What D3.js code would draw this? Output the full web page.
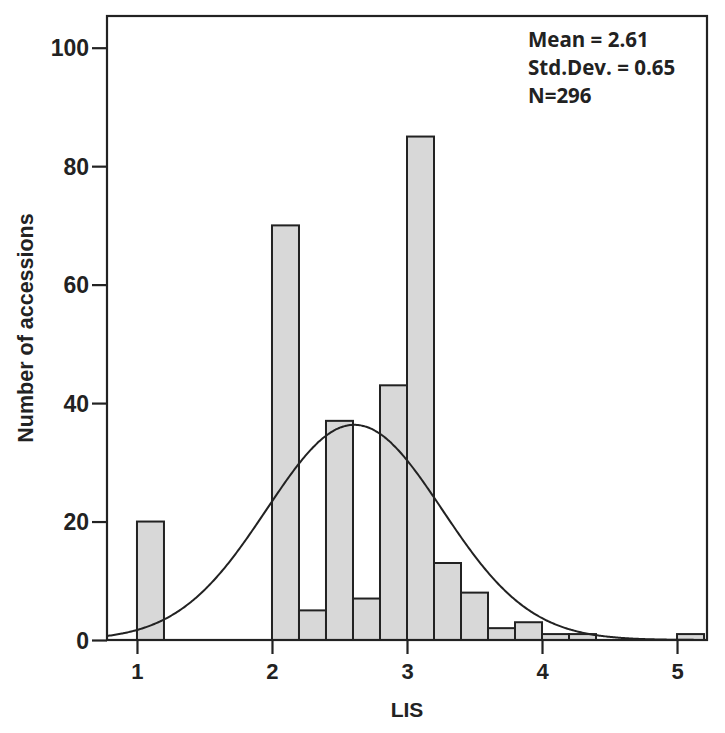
<!DOCTYPE html>
<html><head><meta charset="utf-8">
<script src="https://cdn.jsdelivr.net/npm/d3@7"></script>
<style>body{margin:0;background:#fff;}</style>
</head><body>
<svg id="c" width="725" height="733"></svg>
<script>
// Data
const binStarts = [1.0, 2.0, 2.2, 2.4, 2.6, 2.8, 3.0, 3.2, 3.4, 3.6, 3.8, 4.0, 4.2, 5.0];
const counts    = [20, 70, 5, 37, 7, 43, 85, 13, 8, 2, 3, 1, 1, 1];
const binWidth = 0.2;
const xTicks = [1, 2, 3, 4, 5];
const yTicks = [0, 20, 40, 60, 80, 100];
const statsLines = ["Mean = 2.61", "Std.Dev. = 0.65", "N=296"];
const fitMean = 2.61, fitSD = 0.65, fitN = 296;

const svg = d3.select("#c");
const L = 107, R = 707, T = 16, B = 640;
const x = d3.scaleLinear().domain([0.778, 5.222]).range([L, R]);
const y = d3.scaleLinear().domain([0, 100]).range([B, 47.7]);

const bars = binStarts.map((s, i) => ({s, c: counts[i]}));
svg.append("g").selectAll("rect").data(bars).join("rect")
  .attr("x", d => x(d.s)).attr("width", d => x(d.s + binWidth) - x(d.s))
  .attr("y", d => y(d.c)).attr("height", d => y(0) - y(d.c))
  .attr("fill", "#d8d8d8").attr("stroke", "#222").attr("stroke-width", 2);

// normal fit curve from the stated Mean / Std.Dev. / N
const pts = d3.range(0.778, 5.2221, 0.01).map(v => [v,
  fitN * binWidth / (fitSD * Math.sqrt(2 * Math.PI)) * Math.exp(-0.5 * ((v - fitMean) / fitSD) ** 2)]);
svg.append("path").datum(pts)
  .attr("d", d3.line().x(d => x(d[0])).y(d => y(d[1])).curve(d3.curveBasis))
  .attr("fill", "none").attr("stroke", "#222").attr("stroke-width", 2);

// frame
svg.append("rect").attr("x", L).attr("y", T).attr("width", R - L).attr("height", B - T)
  .attr("fill", "none").attr("stroke", "#222").attr("stroke-width", 2.2);

const font = "Liberation Sans, Arial, sans-serif";
// y axis
const ya = svg.append("g").attr("transform", `translate(${L},0)`)
  .call(d3.axisLeft(y).tickValues(yTicks).tickSize(15).tickPadding(3).tickFormat(d3.format("d")));
ya.select(".domain").remove();
ya.selectAll("line").attr("stroke", "#222").attr("stroke-width", 2.2);
ya.selectAll("text").attr("font-family", font).attr("font-weight", "bold").attr("font-size", 23)
  .attr("fill", "#222").attr("dy", "0.36em");

// x axis
const xa = svg.append("g").attr("transform", `translate(0,${B})`)
  .call(d3.axisBottom(x).tickValues(xTicks).tickSize(14).tickPadding(6).tickFormat(d3.format("d")));
xa.select(".domain").remove();
xa.selectAll("line").attr("stroke", "#222").attr("stroke-width", 2.2);
xa.selectAll("text").attr("font-family", font).attr("font-weight", "bold").attr("font-size", 22)
  .attr("fill", "#222").attr("dy", null).attr("y", 39);

// axis titles
svg.append("text").attr("x", x(3)).attr("y", 717).attr("text-anchor", "middle")
  .attr("font-family", font).attr("font-weight", "bold").attr("font-size", 21).attr("fill", "#222").text("LIS");
svg.append("text").attr("transform", "translate(33,328) rotate(-90)").attr("text-anchor", "middle")
  .attr("font-family", font).attr("font-weight", "bold").attr("font-size", 21.5).attr("fill", "#222")
  .text("Number of accessions");

// stats
svg.append("g").selectAll("text").data(statsLines).join("text")
  .attr("x", 528).attr("y", (d, i) => 47 + i * 28)
  .attr("font-family", "Open Sans, sans-serif").attr("font-weight", "bold").attr("font-size", 20.5)
  .attr("fill", "#222").text(d => d);
</script>
</body></html>
